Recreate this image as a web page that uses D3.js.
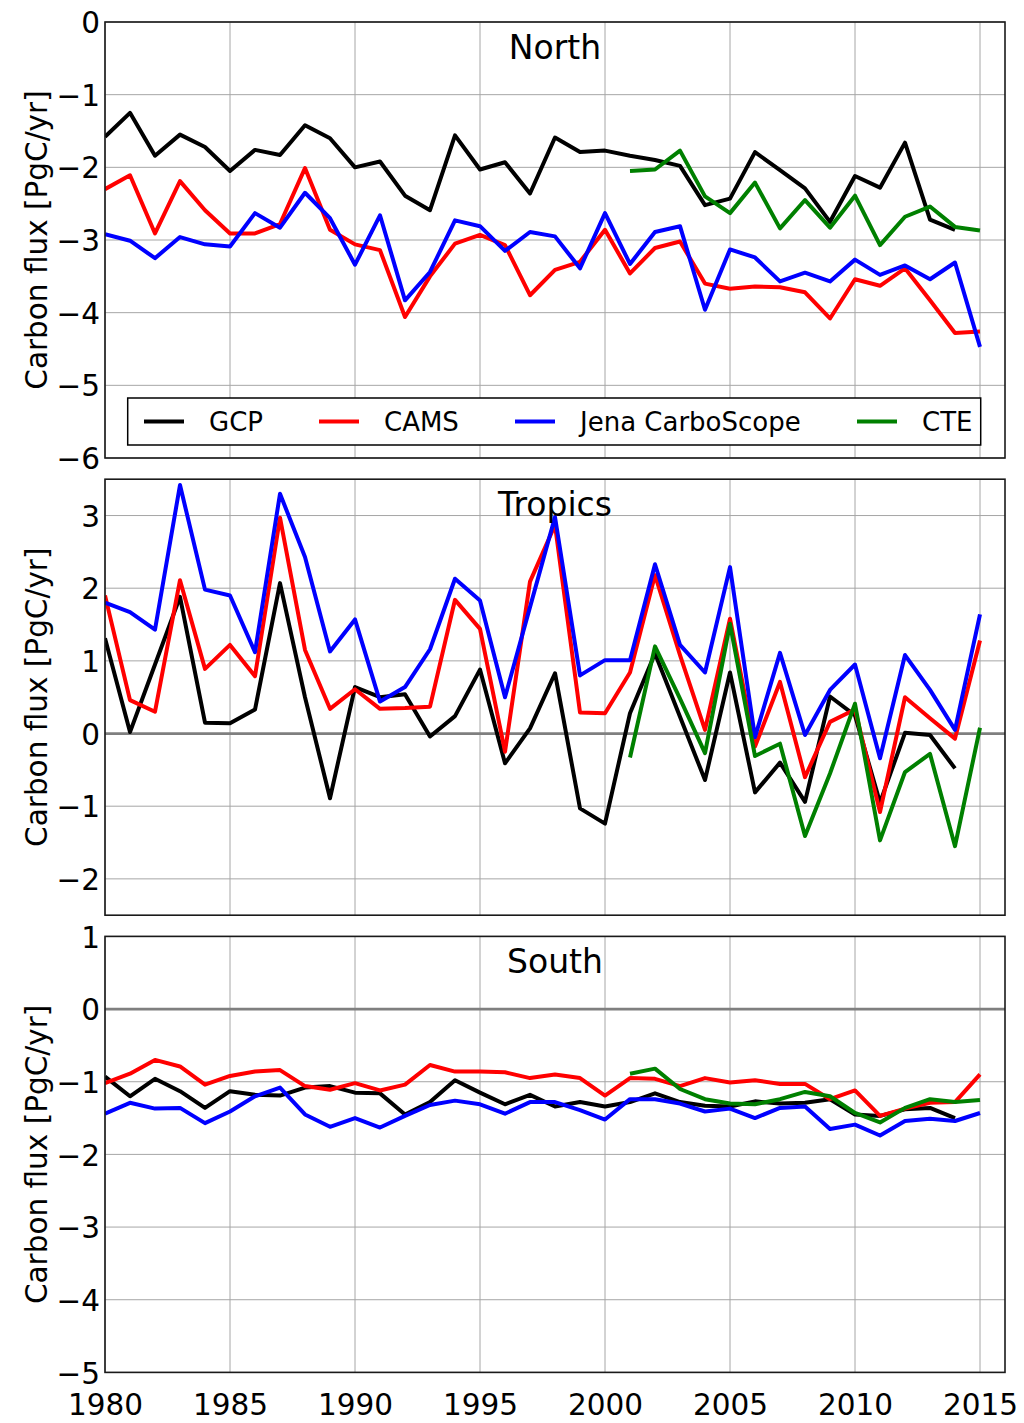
<!DOCTYPE html>
<html>
<head>
<meta charset="utf-8">
<script src="https://cdn.jsdelivr.net/npm/d3@7"></script>
<style>
	body { margin: 0; background: #fff; }
	svg text { font-family: "DejaVu Sans", sans-serif; fill: #000; }
</style>
</head>
<body>
<div id="chart"></div>
<script>
// years on the x axis
const years = [1980, 1981, 1982, 1983, 1984, 1985, 1986, 1987, 1988, 1989,
	1990, 1991, 1992, 1993, 1994, 1995, 1996, 1997, 1998, 1999,
	2000, 2001, 2002, 2003, 2004, 2005, 2006, 2007, 2008, 2009,
	2010, 2011, 2012, 2013, 2014, 2015];
const yearTicks = [1980, 1985, 1990, 1995, 2000, 2005, 2010, 2015];

const seriesNames = ["GCP", "CAMS", "Jena CarboScope", "CTE"];
const seriesStart = [1980, 1980, 1980, 2001];
const seriesColors = ["#000000", "#ff0000", "#0000ff", "#008000"];

// North (GCP 1980-2014, CAMS/Jena 1980-2015, CTE 2001-2015)
const northGCP = [-1.58, -1.25, -1.84, -1.55, -1.72, -2.05, -1.76, -1.83, -1.42, -1.60,
	-2.00, -1.92, -2.39, -2.59, -1.56, -2.03, -1.93, -2.36, -1.59, -1.79,
	-1.77, -1.84, -1.90, -1.98, -2.52, -2.43, -1.79, -2.04, -2.29, -2.75,
	-2.12, -2.28, -1.66, -2.72, -2.86];
const northCAMS = [-2.30, -2.11, -2.91, -2.19, -2.59, -2.91, -2.91, -2.78, -2.01, -2.86,
	-3.06, -3.14, -4.06, -3.50, -3.05, -2.93, -3.07, -3.76, -3.41, -3.30,
	-2.86, -3.46, -3.11, -3.02, -3.60, -3.67, -3.64, -3.65, -3.72, -4.08,
	-3.54, -3.63, -3.39, -3.83, -4.28, -4.26];
const northJena = [-2.92, -3.01, -3.25, -2.96, -3.06, -3.09, -2.63, -2.83, -2.35, -2.70,
	-3.34, -2.66, -3.83, -3.44, -2.73, -2.81, -3.15, -2.89, -2.95, -3.39,
	-2.63, -3.33, -2.89, -2.81, -3.96, -3.13, -3.24, -3.57, -3.45, -3.57,
	-3.27, -3.48, -3.35, -3.54, -3.31, -4.47];
const northCTE = [-2.05, -2.03, -1.77, -2.40, -2.63, -2.21, -2.84, -2.45, -2.83, -2.39,
	-3.07, -2.68, -2.54, -2.82, -2.87];

// Tropics
const tropicsGCP = [1.31, 0.02, 0.95, 1.88, 0.15, 0.14, 0.33, 2.07, 0.50, -0.89,
	0.64, 0.50, 0.54, -0.04, 0.24, 0.88, -0.41, 0.07, 0.83, -1.03,
	-1.24, 0.28, 1.10, 0.23, -0.64, 0.84, -0.81, -0.40, -0.94, 0.51,
	0.25, -0.95, 0.01, -0.02, -0.48];
const tropicsCAMS = [1.90, 0.46, 0.30, 2.11, 0.89, 1.22, 0.79, 2.97, 1.15, 0.34,
	0.61, 0.34, 0.35, 0.37, 1.84, 1.44, -0.25, 2.09, 2.87, 0.29,
	0.28, 0.84, 2.18, 1.08, 0.05, 1.58, -0.18, 0.71, -0.60, 0.16,
	0.33, -1.08, 0.50, 0.21, -0.07, 1.28];
const tropicsJena = [1.80, 1.67, 1.43, 3.42, 1.98, 1.90, 1.12, 3.30, 2.43, 1.13,
	1.57, 0.44, 0.64, 1.16, 2.13, 1.83, 0.50, 1.74, 2.98, 0.80,
	1.01, 1.01, 2.33, 1.22, 0.84, 2.29, -0.05, 1.11, -0.02, 0.60,
	0.95, -0.34, 1.08, 0.60, 0.05, 1.64];
const tropicsCTE = [-0.33, 1.20, 0.48, -0.27, 1.51, -0.31, -0.14, -1.41, -0.55, 0.41,
	-1.47, -0.53, -0.28, -1.55, 0.08];

// South
const southGCP = [-0.93, -1.20, -0.96, -1.13, -1.36, -1.13, -1.18, -1.19, -1.08, -1.06,
	-1.15, -1.16, -1.45, -1.28, -0.98, -1.15, -1.31, -1.18, -1.34, -1.28,
	-1.34, -1.28, -1.16, -1.28, -1.33, -1.34, -1.27, -1.30, -1.29, -1.24,
	-1.45, -1.47, -1.38, -1.36, -1.50];
const southCAMS = [-1.02, -0.89, -0.70, -0.79, -1.04, -0.92, -0.86, -0.84, -1.06, -1.11,
	-1.02, -1.12, -1.04, -0.77, -0.86, -0.86, -0.87, -0.95, -0.90, -0.95,
	-1.19, -0.95, -0.96, -1.06, -0.95, -1.01, -0.98, -1.03, -1.03, -1.24,
	-1.12, -1.47, -1.37, -1.29, -1.28, -0.90];
const southJena = [-1.44, -1.29, -1.37, -1.36, -1.57, -1.41, -1.20, -1.08, -1.45, -1.62,
	-1.50, -1.63, -1.47, -1.32, -1.26, -1.31, -1.44, -1.28, -1.28, -1.39,
	-1.52, -1.24, -1.24, -1.30, -1.41, -1.37, -1.50, -1.36, -1.34, -1.65,
	-1.59, -1.74, -1.54, -1.51, -1.54, -1.43];
const southCTE = [-0.89, -0.82, -1.10, -1.24, -1.30, -1.31, -1.24, -1.14, -1.20, -1.43,
	-1.56, -1.36, -1.24, -1.28, -1.25];

// y tick labels per panel
const northTicks = [-6, -5, -4, -3, -2, -1, 0];
const tropicsTicks = [-2, -1, 0, 1, 2, 3];
const southTicks = [-5, -4, -3, -2, -1, 0, 1];

const panels = [
	{title: "North", domain: [-6, 0], ticks: northTicks, series: [northGCP, northCAMS, northJena, northCTE], zero: false, legend: true},
	{title: "Tropics", domain: [-2.5, 3.5], ticks: tropicsTicks, series: [tropicsGCP, tropicsCAMS, tropicsJena, tropicsCTE], zero: true, legend: false},
	{title: "South", domain: [-5, 1], ticks: southTicks, series: [southGCP, southCAMS, southJena, southCTE], zero: true, legend: false}
];

const W = 1024, H = 1423;
const left = 105, right = 1005;
const panelTop = 22, panelH = 436, panelStep = 457.2;

const svg = d3.select("#chart")
	.append("svg")
		.attr("width", W)
		.attr("height", H);

const x = d3.scaleLinear()
	.domain([1980, 2016])
	.range([left, right]);

const line = d3.line()
	.x(d => x(d.year))
	.y(d => d.y);

panels.forEach((p, pi) => {
	const top = panelTop + pi * panelStep;
	const y = d3.scaleLinear()
		.domain(p.domain)
		.range([top + panelH, top]);

	const g = svg.append("g");

	g.append("clipPath")
		.attr("id", "clip" + pi)
		.append("rect")
			.attr("x", left)
			.attr("y", top)
			.attr("width", right - left)
			.attr("height", panelH);

	// grid
	g.append("g")
		.selectAll("line")
		.data(yearTicks)
		.join("line")
			.attr("x1", d => x(d)).attr("x2", d => x(d))
			.attr("y1", top).attr("y2", top + panelH)
			.attr("stroke", "#a6a6a6")
			.attr("stroke-width", 1);
	g.append("g")
		.selectAll("line")
		.data(p.ticks)
		.join("line")
			.attr("x1", left).attr("x2", right)
			.attr("y1", d => y(d)).attr("y2", d => y(d))
			.attr("stroke", "#a6a6a6")
			.attr("stroke-width", 1);

	if (p.zero) {
		g.append("line")
			.attr("x1", left).attr("x2", right)
			.attr("y1", y(0)).attr("y2", y(0))
			.attr("stroke", "#7f7f7f")
			.attr("stroke-width", 2.7);
	}

	// data lines
	const lines = g.append("g").attr("clip-path", `url(#clip${pi})`);
	p.series.forEach((vals, si) => {
		const i0 = years.indexOf(seriesStart[si]);
		const pts = vals.map((v, i) => ({year: years[i0 + i], y: y(v)}));
		lines.append("path")
			.datum(pts)
			.attr("d", line)
			.attr("fill", "none")
			.attr("stroke", seriesColors[si])
			.attr("stroke-width", 4)
			.attr("stroke-linejoin", "round");
	});

	// frame
	g.append("rect")
		.attr("x", left)
		.attr("y", top)
		.attr("width", right - left)
		.attr("height", panelH)
		.attr("fill", "none")
		.attr("stroke", "#1a1a1a")
		.attr("stroke-width", 1.6);

	// y axis
	const ya = g.append("g")
		.attr("transform", `translate(${left},0)`)
		.call(d3.axisLeft(y).tickValues(p.ticks).tickFormat(d3.format("d")).tickSize(0).tickPadding(5));
	ya.select(".domain").remove();
	ya.selectAll("text")
		.attr("font-size", 29.5)
		.attr("font-family", "DejaVu Sans")
		.attr("dy", "0.36em");

	g.append("text")
		.attr("transform", `translate(47,${top + panelH / 2}) rotate(-90)`)
		.attr("text-anchor", "middle")
		.attr("font-size", 29.5)
		.text("Carbon flux [PgC/yr]");

	g.append("text")
		.attr("x", (left + right) / 2)
		.attr("y", top + 36.5)
		.attr("text-anchor", "middle")
		.attr("font-size", 33)
		.text(p.title);

	if (pi === panels.length - 1) {
		const xa = g.append("g")
			.attr("transform", `translate(0,${top + panelH})`)
			.call(d3.axisBottom(x).tickValues(yearTicks).tickFormat(d3.format("d")).tickSize(0).tickPadding(21.5));
		xa.select(".domain").remove();
		xa.selectAll("text")
			.attr("font-size", 29.5)
			.attr("font-family", "DejaVu Sans");
	}

	if (p.legend) {
		const lx = 127.7, ly = 398, lw = 853, lh = 47;
		const entryX = [16.3, 191.3, 387.3, 729.3];
		const lg = g.append("g").attr("transform", `translate(${lx},${ly})`);
		lg.append("rect")
			.attr("width", lw)
			.attr("height", lh)
			.attr("fill", "#fff")
			.attr("stroke", "#000")
			.attr("stroke-width", 1.5);
		const items = lg.selectAll("g.item")
			.data(seriesNames)
			.join("g")
				.attr("class", "item")
				.attr("transform", (d, i) => `translate(${entryX[i]},${lh / 2})`);
		items.append("line")
			.attr("x1", 0).attr("x2", 40)
			.attr("stroke", (d, i) => seriesColors[i])
			.attr("stroke-width", 4);
		items.append("text")
			.attr("x", 65)
			.attr("dy", "0.36em")
			.attr("font-size", 26)
			.text(d => d);
	}
});
</script>
</body>
</html>
